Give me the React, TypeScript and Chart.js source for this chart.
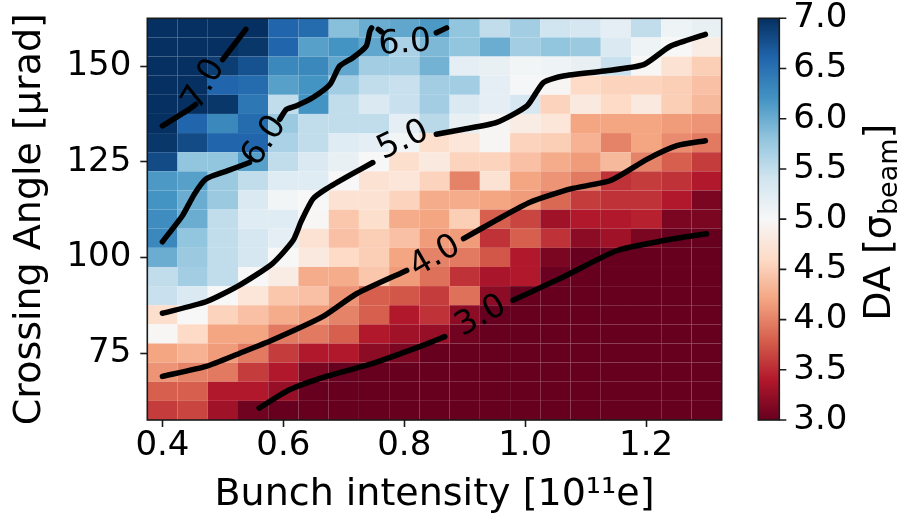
import React, { useEffect, useRef } from 'react';
import { Chart, registerables } from 'chart.js';

Chart.register(...registerables);
Chart.defaults.font.family = "'DejaVu Sans', sans-serif";
Chart.defaults.color = '#000';

// ---- grid coordinates ----
const intensities = [0.40, 0.45, 0.50, 0.55, 0.60, 0.65, 0.70, 0.75, 0.80, 0.85, 0.90, 0.95, 1.00, 1.05, 1.10, 1.15, 1.20, 1.25, 1.30];
const crossingAngles = [160, 155, 150, 145, 140, 135, 130, 125, 120, 115, 110, 105, 100, 95, 90, 85, 80, 75, 70, 65, 60];

// ---- DA values, one row per crossing angle (columns follow intensities) ----
const da160 = [7.40, 7.35, 7.30, 7.05, 6.60, 6.55, 5.85, 6.00, 6.05, 6.15, 5.80, 5.50, 5.70, 5.40, 5.35, 5.20, 5.50, 5.10, 5.15];
const da155 = [7.40, 7.30, 7.20, 6.95, 6.60, 6.10, 6.20, 6.05, 5.65, 5.90, 5.80, 6.00, 5.70, 5.80, 5.75, 5.30, 5.10, 5.00, 4.85];
const da150 = [7.35, 7.25, 6.90, 6.75, 6.30, 6.30, 6.05, 5.70, 5.70, 5.95, 5.20, 5.15, 5.05, 5.10, 5.15, 5.45, 4.98, 4.70, 4.50];
const da145 = [7.30, 7.15, 6.60, 6.55, 6.10, 6.20, 5.70, 5.50, 5.45, 5.70, 5.70, 5.20, 5.02, 4.97, 4.60, 4.55, 4.55, 4.50, 4.40];
const da140 = [7.25, 7.05, 6.95, 6.45, 5.50, 6.20, 5.50, 5.30, 5.45, 5.70, 5.30, 5.20, 5.35, 4.55, 4.80, 4.60, 4.80, 4.50, 4.35];
const da135 = [7.15, 6.60, 6.30, 6.55, 5.75, 5.50, 5.50, 5.50, 5.20, 5.55, 5.15, 4.97, 4.85, 4.75, 4.20, 4.20, 4.20, 4.15, 4.10];
const da130 = [6.95, 6.80, 6.60, 6.60, 5.65, 5.50, 5.25, 5.20, 5.05, 4.65, 4.75, 4.97, 4.55, 4.50, 4.30, 4.00, 4.20, 4.05, 3.95];
const da125 = [6.80, 5.80, 5.80, 6.10, 5.50, 5.30, 5.15, 5.00, 4.65, 4.80, 4.55, 4.55, 4.40, 4.25, 4.15, 4.35, 4.00, 3.80, 3.60];
const da120 = [6.15, 6.10, 5.75, 5.50, 5.25, 5.25, 5.00, 4.70, 4.75, 4.55, 4.00, 4.70, 4.20, 4.10, 3.95, 3.55, 3.60, 3.55, 3.40];
const da115 = [6.20, 6.00, 5.75, 5.30, 5.05, 5.00, 4.70, 4.70, 4.55, 4.25, 4.25, 4.20, 4.15, 3.85, 3.60, 3.55, 3.55, 3.40, 3.10];
const da110 = [6.25, 6.00, 5.50, 5.25, 5.25, 4.98, 4.45, 4.65, 4.25, 4.20, 4.50, 3.80, 3.65, 3.30, 3.40, 3.40, 3.45, 3.10, 3.10];
const da105 = [6.30, 5.80, 5.50, 5.35, 5.20, 4.70, 4.40, 4.50, 4.40, 4.15, 4.15, 3.55, 3.80, 3.55, 3.20, 3.30, 3.10, 2.95, 2.90];
const da100 = [6.00, 5.75, 5.50, 5.35, 5.00, 4.80, 4.60, 4.50, 4.20, 4.00, 3.95, 3.75, 3.40, 3.10, 3.00, 2.95, 2.90, 2.80, 2.70];
const da095 = [5.50, 5.70, 5.50, 5.00, 4.85, 4.25, 4.25, 4.45, 4.15, 3.90, 3.55, 3.35, 3.40, 3.02, 2.80, 2.75, 2.70, 2.60, 2.50];
const da090 = [5.45, 5.30, 5.00, 4.75, 4.45, 4.40, 4.10, 3.80, 3.75, 3.60, 3.90, 3.20, 3.00, 2.75, 2.60, 2.50, 2.50, 2.40, 2.30];
const da085 = [4.65, 5.00, 4.55, 4.40, 4.25, 4.15, 4.00, 3.80, 3.40, 3.55, 3.20, 2.90, 2.70, 2.50, 2.40, 2.30, 2.30, 2.20, 2.10];
const da080 = [4.98, 4.60, 4.20, 4.20, 3.95, 3.95, 3.80, 3.40, 3.30, 3.25, 3.05, 2.70, 2.50, 2.30, 2.20, 2.10, 2.10, 2.00, 1.90];
const da075 = [4.20, 4.30, 4.15, 3.95, 3.60, 3.40, 3.40, 3.20, 3.10, 2.95, 2.70, 2.50, 2.30, 2.10, 2.00, 1.90, 1.90, 1.80, 1.70];
const da070 = [4.10, 4.00, 3.95, 3.60, 3.40, 3.10, 2.95, 2.80, 2.75, 2.50, 2.40, 2.25, 2.05, 1.90, 1.80, 1.70, 1.70, 1.60, 1.50];
const da065 = [3.80, 3.80, 3.40, 3.40, 3.25, 2.90, 2.70, 2.60, 2.50, 2.30, 2.20, 2.05, 1.85, 1.70, 1.60, 1.50, 1.50, 1.40, 1.30];
const da060 = [3.60, 3.65, 3.30, 3.05, 2.90, 2.80, 2.50, 2.40, 2.30, 2.10, 1.95, 1.80, 1.60, 1.50, 1.40, 1.30, 1.30, 1.20, 1.10];
const daRows = [da160, da155, da150, da145, da140, da135, da130, da125, da120, da115, da110, da105, da100, da095, da090, da085, da080, da075, da070, da065, da060];

// ---- colour scale ----
const daMin = 3.0;
const daMax = 7.0;
const rdbuStops = ['#67001f', '#b2182b', '#d6604d', '#f4a582', '#fddbc7', '#f7f7f7', '#d1e5f0', '#92c5de', '#4393c3', '#2166ac', '#053061'];

// ---- ticks ----
const xTickValues = [0.4, 0.6, 0.8, 1.0, 1.2];
const yTickValues = [75, 100, 125, 150];
const cbTickValues = [3.0, 3.5, 4.0, 4.5, 5.0, 5.5, 6.0, 6.5, 7.0];

// ---- contour lines (null = label gap) ----
type P = { x: number; y: number | null };
const contour3: P[] = [
  { x: 0.560, y: 60.6 }, { x: 0.610, y: 65.4 }, { x: 0.671, y: 68.9 }, { x: 0.748, y: 72.3 }, { x: 0.831, y: 77.0 }, { x: 0.867, y: 79.3 },
  { x: 0.92, y: null },
  { x: 0.980, y: 88.8 }, { x: 1.063, y: 94.9 }, { x: 1.152, y: 101.8 }, { x: 1.229, y: 104.4 }, { x: 1.300, y: 106.2 },
];
const contour4: P[] = [
  { x: 0.400, y: 68.9 }, { x: 0.472, y: 71.5 }, { x: 0.527, y: 74.9 }, { x: 0.582, y: 78.4 }, { x: 0.665, y: 84.5 }, { x: 0.721, y: 90.5 }, { x: 0.804, y: 96.6 },
  { x: 0.85, y: null },
  { x: 0.898, y: 104.9 }, { x: 0.953, y: 109.8 }, { x: 1.008, y: 114.4 }, { x: 1.075, y: 117.9 }, { x: 1.141, y: 120.1 }, { x: 1.202, y: 125.7 }, { x: 1.251, y: 129.2 }, { x: 1.298, y: 130.5 },
];
const contour5: P[] = [
  { x: 0.400, y: 85.4 }, { x: 0.472, y: 88.4 }, { x: 0.527, y: 92.7 }, { x: 0.582, y: 98.4 }, { x: 0.616, y: 104.4 }, { x: 0.630, y: 109.6 }, { x: 0.649, y: 115.3 },
  { x: 0.671, y: 117.9 }, { x: 0.710, y: 121.5 }, { x: 0.748, y: 124.8 },
  { x: 0.80, y: null },
  { x: 0.853, y: 132.2 }, { x: 0.898, y: 133.5 }, { x: 0.953, y: 135.3 }, { x: 1.003, y: 139.6 }, { x: 1.030, y: 145.7 }, { x: 1.063, y: 147.4 },
  { x: 1.130, y: 148.7 }, { x: 1.196, y: 150.4 }, { x: 1.240, y: 155.2 }, { x: 1.298, y: 158.3 },
];
const contour6a: P[] = [
  { x: 0.400, y: 104.1 }, { x: 0.433, y: 110.9 }, { x: 0.453, y: 116.6 }, { x: 0.472, y: 120.5 }, { x: 0.507, y: 122.6 }, { x: 0.544, y: 124.8 },
  { x: 0.57, y: null },
  { x: 0.594, y: 136.1 }, { x: 0.605, y: 138.7 }, { x: 0.621, y: 139.6 }, { x: 0.649, y: 141.8 }, { x: 0.677, y: 145.2 }, { x: 0.693, y: 150.0 },
  { x: 0.715, y: 152.2 }, { x: 0.737, y: 155.2 }, { x: 0.743, y: 159.1 }, { x: 0.746, y: 160.0 },
];
const contour6b: P[] = [
  { x: 0.757, y: 159.6 }, { x: 0.762, y: 159.0 },
  { x: 0.80, y: null },
  { x: 0.853, y: 158.7 }, { x: 0.870, y: 160.0 },
];
const contour7: P[] = [
  { x: 0.400, y: 134.4 }, { x: 0.444, y: 138.7 }, { x: 0.455, y: 140.0 },
  { x: 0.47, y: null },
  { x: 0.4995, y: 151.7 }, { x: 0.538, y: 159.6 },
];
const contourLines = [contour3, contour4, contour5, contour6a, contour6b, contour7];

const contourLabels = [
  { text: '7.0', x: 0.469, y: 145.2, angle: -60 },
  { text: '6.0', x: 0.569, y: 130.4, angle: -56 },
  { text: '6.0', x: 0.801, y: 155.9, angle: -4 },
  { text: '5.0', x: 0.798, y: 130.5, angle: -25 },
  { text: '4.0', x: 0.851, y: 100.2, angle: -30 },
  { text: '3.0', x: 0.927, y: 84.6, angle: -29 },
];

// ---- helpers ----
function hexToRgb(hex: string): number[] {
  const n = parseInt(hex.slice(1), 16);
  return [(n >> 16) & 255, (n >> 8) & 255, n & 255];
}
const rdbuRgb = rdbuStops.map(hexToRgb);
function colorAt(t: number): string {
  const tt = Math.min(1, Math.max(0, t));
  const pos = tt * (rdbuRgb.length - 1);
  const i = Math.min(rdbuRgb.length - 2, Math.floor(pos));
  const f = pos - i;
  const a = rdbuRgb[i];
  const b = rdbuRgb[i + 1];
  return `rgb(${Math.round(a[0] + (b[0] - a[0]) * f)},${Math.round(a[1] + (b[1] - a[1]) * f)},${Math.round(a[2] + (b[2] - a[2]) * f)})`;
}
function daColor(v: number): string {
  return colorAt((v - daMin) / (daMax - daMin));
}

const halfX = (intensities[1] - intensities[0]) / 2;
const halfY = Math.abs(crossingAngles[0] - crossingAngles[1]) / 2;
const xMin = Math.min(...intensities) - halfX;
const xMax = Math.max(...intensities) + halfX;
const yMin = Math.min(...crossingAngles) - halfY;
const yMax = Math.max(...crossingAngles) + halfY;

const FRAME = '#1a1a1a';

const heatmapPlugin = {
  id: 'heatmap',
  beforeDatasetsDraw(chart: any) {
    const { ctx, chartArea, scales } = chart;
    const xs = scales.x;
    const ys = scales.y;
    ctx.save();
    ctx.beginPath();
    ctx.rect(chartArea.left, chartArea.top, chartArea.right - chartArea.left, chartArea.bottom - chartArea.top);
    ctx.clip();
    daRows.forEach((row, j) => {
      row.forEach((v, i) => {
        const x0 = xs.getPixelForValue(intensities[i] - halfX);
        const x1 = xs.getPixelForValue(intensities[i] + halfX);
        const y0 = ys.getPixelForValue(crossingAngles[j] + halfY);
        const y1 = ys.getPixelForValue(crossingAngles[j] - halfY);
        ctx.fillStyle = daColor(v);
        ctx.fillRect(x0, y0, x1 - x0, y1 - y0);
      });
    });
    ctx.restore();
  },
};

const overlayPlugin = {
  id: 'overlay',
  afterDraw(chart: any) {
    const { ctx, chartArea, scales } = chart;
    const xs = scales.x;
    const ys = scales.y;
    const cb = scales.cb;
    ctx.save();
    // contour labels
    ctx.fillStyle = '#000';
    ctx.font = "33px 'DejaVu Sans', sans-serif";
    ctx.textAlign = 'center';
    ctx.textBaseline = 'middle';
    contourLabels.forEach((l) => {
      const px = xs.getPixelForValue(l.x);
      const py = ys.getPixelForValue(l.y);
      ctx.save();
      ctx.translate(px, py);
      ctx.rotate((l.angle * Math.PI) / 180);
      ctx.fillText(l.text, 0, 0);
      ctx.restore();
    });
    // frame
    ctx.strokeStyle = FRAME;
    ctx.lineWidth = 1.6;
    ctx.strokeRect(chartArea.left, chartArea.top, chartArea.right - chartArea.left, chartArea.bottom - chartArea.top);

    // colorbar
    const cbLeft = chartArea.right + 36.6;
    const cbWidth = 21;
    const cbTop = cb.getPixelForValue(daMax);
    const cbBottom = cb.getPixelForValue(daMin);
    const grad = ctx.createLinearGradient(0, cbBottom, 0, cbTop);
    rdbuStops.forEach((c, i) => grad.addColorStop(i / (rdbuStops.length - 1), c));
    ctx.fillStyle = grad;
    ctx.fillRect(cbLeft, cbTop, cbWidth, cbBottom - cbTop);
    ctx.strokeStyle = FRAME;
    ctx.lineWidth = 1.6;
    ctx.strokeRect(cbLeft, cbTop, cbWidth, cbBottom - cbTop);
    ctx.beginPath();
    cbTickValues.forEach((v) => {
      const py = cb.getPixelForValue(v);
      ctx.moveTo(cbLeft + cbWidth, py);
      ctx.lineTo(cbLeft + cbWidth + 7, py);
    });
    ctx.stroke();

    // colorbar title: DA [σ_beam]
    const mainFont = "38px 'DejaVu Sans', sans-serif";
    const subFont = "27px 'DejaVu Sans', sans-serif";
    const p1 = 'DA [σ';
    const p2 = 'beam';
    const p3 = ']';
    ctx.font = mainFont;
    const w1 = ctx.measureText(p1).width;
    const w3 = ctx.measureText(p3).width;
    ctx.font = subFont;
    const w2 = ctx.measureText(p2).width;
    const total = w1 + w2 + w3;
    const baseX = chartArea.right + 168.5;
    const cy = (cbTop + cbBottom) / 2 + 3;
    ctx.translate(baseX, cy);
    ctx.rotate(-Math.PI / 2);
    ctx.fillStyle = '#000';
    ctx.textAlign = 'left';
    ctx.textBaseline = 'alphabetic';
    let u = -total / 2;
    ctx.font = mainFont;
    ctx.fillText(p1, u, 0);
    u += w1;
    ctx.font = subFont;
    ctx.fillText(p2, u, 7);
    u += w2;
    ctx.font = mainFont;
    ctx.fillText(p3, u, 0);
    ctx.restore();
  },
};

const tickGrid = {
  display: true,
  drawOnChartArea: false,
  drawTicks: true,
  tickLength: 7,
  tickColor: FRAME,
  tickWidth: 1.6,
};

export default function App() {
  const ref = useRef<HTMLCanvasElement | null>(null);
  useEffect(() => {
    if (!ref.current) return;
    const chart = new Chart(ref.current, {
      type: 'scatter',
      data: {
        datasets: contourLines.map((c) => ({
          data: c as any,
          showLine: true,
          borderColor: '#000',
          backgroundColor: '#000',
          borderWidth: 5.5,
          pointRadius: 0,
          pointHoverRadius: 0,
          tension: 0.2,
          spanGaps: false,
          borderCapStyle: 'round',
          borderJoinStyle: 'round',
        })),
      },
      options: {
        responsive: false,
        animation: false,
        events: [],
        layout: { padding: { top: 18.3, left: 0, right: 0, bottom: 0 } },
        plugins: { legend: { display: false }, tooltip: { enabled: false } },
        scales: {
          x: {
            type: 'linear',
            position: 'bottom',
            min: xMin,
            max: xMax,
            afterBuildTicks: (s: any) => {
              s.ticks = xTickValues.map((v) => ({ value: v }));
            },
            afterFit: (s: any) => {
              s.height = 104;
              s.paddingLeft = 0;
              s.paddingRight = 0;
            },
            ticks: {
              callback: (v: any) => Number(v).toFixed(1),
              font: { size: 34, lineHeight: 1 },
              color: '#000',
              padding: 2,
              autoSkip: false,
              maxRotation: 0,
            },
            grid: tickGrid,
            border: { display: false },
            title: {
              display: true,
              text: 'Bunch intensity [10¹¹e]',
              font: { size: 38, lineHeight: 1.2 },
              color: '#000',
              padding: { top: 0, bottom: 6 },
            },
          },
          y: {
            type: 'linear',
            position: 'left',
            min: yMin,
            max: yMax,
            afterBuildTicks: (s: any) => {
              s.ticks = yTickValues.map((v) => ({ value: v }));
            },
            afterFit: (s: any) => {
              s.width = 147.3;
              s.paddingTop = 0;
              s.paddingBottom = 0;
            },
            ticks: {
              callback: (v: any) => String(v),
              font: { size: 34, lineHeight: 1 },
              color: '#000',
              padding: 9,
              autoSkip: false,
            },
            grid: tickGrid,
            border: { display: false },
            title: {
              display: true,
              text: 'Crossing Angle [µrad]',
              font: { size: 38, lineHeight: 1.2 },
              color: '#000',
              padding: { top: 7, bottom: 0 },
            },
          },
          cb: {
            type: 'linear',
            axis: 'y',
            position: 'right',
            min: daMin,
            max: daMax,
            afterBuildTicks: (s: any) => {
              s.ticks = cbTickValues.map((v) => ({ value: v }));
            },
            afterFit: (s: any) => {
              s.width = 178.3;
              s.paddingTop = 0;
              s.paddingBottom = 0;
            },
            ticks: {
              callback: (v: any) => Number(v).toFixed(1),
              font: { size: 34, lineHeight: 1 },
              color: '#000',
              padding: 71.6,
              autoSkip: false,
            },
            grid: { display: false, drawTicks: false },
            border: { display: false },
          },
        },
      } as any,
      plugins: [heatmapPlugin, overlayPlugin],
    });
    return () => chart.destroy();
  }, []);
  return (
    <div style={{ position: 'absolute', left: 0, top: 0, width: 900, height: 524, background: '#fff' }}>
      <canvas ref={ref} width={900} height={524} style={{ display: 'block', width: 900, height: 524 }} />
    </div>
  );
}
